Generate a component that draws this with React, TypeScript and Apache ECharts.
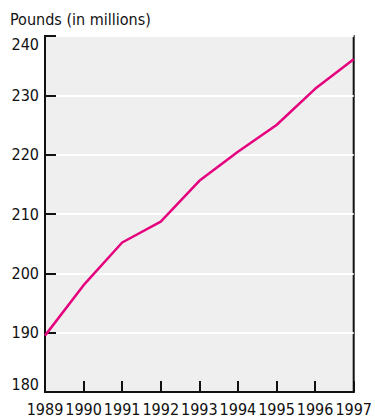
import React, { useEffect, useRef } from "react";
import * as echarts from "echarts";

const years = ["1989", "1990", "1991", "1992", "1993", "1994", "1995", "1996", "1997"];
const pounds = [189.5, 198.0, 205.2, 208.7, 215.6, 220.5, 225.0, 231.1, 236.1];
const yMin = 180;
const yMax = 240;
const yStep = 10;
const title = "Pounds (in millions)";

const FONT = '"Liberation Sans Narrow", "DejaVu Sans Condensed", "Roboto", sans-serif';

export default function App() {
  const ref = useRef<HTMLDivElement>(null);
  useEffect(() => {
    if (!ref.current) return;
    const chart = echarts.init(ref.current, null, { renderer: "svg" });
    chart.setOption({
      animation: false,
      grid: {
        left: 45,
        right: 19,
        top: 36,
        bottom: 24,
        show: true,
        backgroundColor: "#efefef",
        borderColor: "#111",
        borderWidth: 2,
      },
      graphic: [
        {
          type: "text",
          left: 10,
          top: 11,
          style: { text: title, font: `16px ${FONT}`, fill: "#111" },
        },
      ],
      xAxis: {
        type: "category",
        data: years,
        boundaryGap: false,
        axisLine: { show: true, lineStyle: { color: "#111", width: 2 } },
        axisTick: { show: true, inside: true, length: 11, lineStyle: { color: "#111", width: 2 } },
        axisLabel: { color: "#111", fontSize: 16, fontFamily: FONT, margin: 9, showMinLabel: true, showMaxLabel: true, interval: 0 },
        splitLine: { show: false },
      },
      yAxis: {
        type: "value",
        min: yMin,
        max: yMax,
        interval: yStep,
        axisLine: { show: true, lineStyle: { color: "#111", width: 2 } },
        axisTick: { show: true, inside: true, length: 11, lineStyle: { color: "#111", width: 2 } },
        axisLabel: {
          color: "#111",
          fontSize: 16,
          fontFamily: FONT,
          margin: 6,
          verticalAlignMaxLabel: "top",
          verticalAlignMinLabel: "bottom",
        },
        splitLine: { show: true, lineStyle: { color: "#ffffff", width: 2 } },
      },
      series: [
        {
          type: "line",
          data: pounds,
          symbol: "none",
          lineStyle: { color: "#e5007d", width: 2.5 },
        },
      ],
    });
    return () => chart.dispose();
  }, []);
  return <div ref={ref} style={{ width: 375, height: 417, position: "absolute", left: 0, top: 0 }} />;
}
